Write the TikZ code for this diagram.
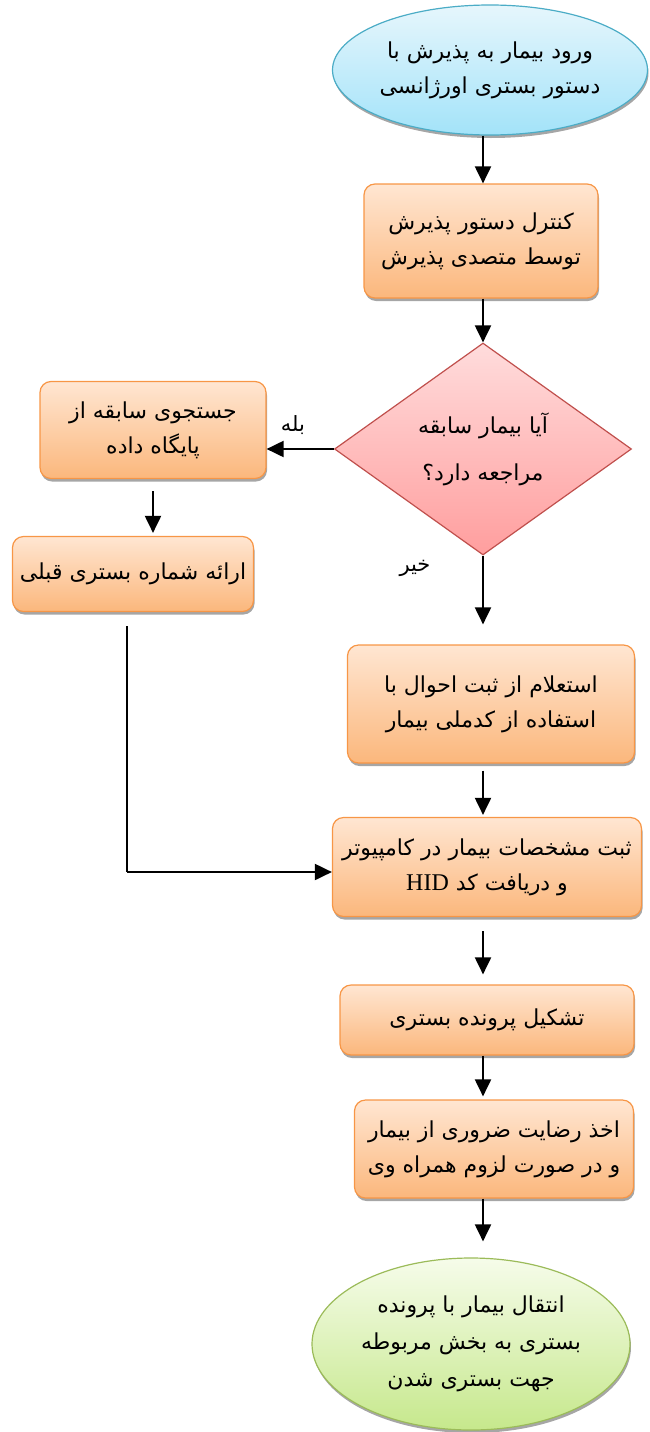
\documentclass[tikz,border=0pt]{standalone}
\usepackage{fontspec}
\setmainfont{Liberation Serif}
\newfontfamily\arabicfont[Script=Arabic]{DejaVu Sans}
\newfontfamily\latinserif{Liberation Serif}
\TeXXeTstate=1
\usetikzlibrary{shapes.geometric,arrows.meta,shadows}
\newcommand{\ar}[1]{\beginR #1\endR}
\definecolor{boxtop}{HTML}{FFE6D2}
\definecolor{boxbot}{HTML}{FBB77C}
\definecolor{boxline}{HTML}{F79646}
\definecolor{bluetop}{HTML}{E6F6FC}
\definecolor{bluebot}{HTML}{A3E3F9}
\definecolor{blueline}{HTML}{4BACC6}
\definecolor{pinktop}{HTML}{FFDCDC}
\definecolor{pinkbot}{HTML}{FF9E9E}
\definecolor{pinkline}{HTML}{C0504D}
\definecolor{greentop}{HTML}{F6FCEA}
\definecolor{greenbot}{HTML}{C6E88C}
\definecolor{greenline}{HTML}{9BBB59}
\begin{document}
\begin{tikzpicture}[x=1pt,y=-1pt,
  txt/.style={font=\arabicfont\fontsize{22}{35}\selectfont, align=center, inner sep=0pt},
  shad/.style={drop shadow={shadow xshift=1pt, shadow yshift=-3pt, opacity=0.35, fill=black}},
  proc/.style={txt, shad, rectangle, rounded corners=11pt, draw=boxline, line width=1.2pt,
    top color=boxtop, bottom color=boxbot},
  startnode/.style={txt, shad, ellipse, draw=blueline, line width=1.2pt,
    top color=bluetop, bottom color=bluebot},
  endnode/.style={txt, shad, ellipse, draw=greenline, line width=1.2pt,
    top color=greentop, bottom color=greenbot, font=\arabicfont\fontsize{22}{37}\selectfont},
  decision/.style={txt, diamond, draw=pinkline, line width=1.2pt,
    top color=pinktop, bottom color=pinkbot, font=\arabicfont\fontsize{22}{47}\selectfont},
  arr/.style={line width=2pt, -{Triangle[width=16pt,length=17pt]}},
  lbl/.style={font=\arabicfont\fontsize{21}{24}\selectfont, inner sep=0pt}
]
\useasboundingbox (0,0) rectangle (649,1432);

\node[startnode, minimum width=315, minimum height=130] (start) at (490,70)
  {\ar{ورود بیمار به پذیرش با}\\\ar{دستور بستری اورژانسی}};
\node[proc, minimum width=234, minimum height=114] (b1) at (481,241)
  {\ar{کنترل دستور پذیرش}\\\ar{توسط متصدی پذیرش}};
\node[decision, minimum width=297, minimum height=212] (dec) at (483,449)
  {\ar{آیا بیمار سابقه}\\\ar{مراجعه دارد؟}};
\node[proc, minimum width=226, minimum height=97] (l1) at (153,430)
  {\ar{جستجوی سابقه از}\\\ar{پایگاه داده}};
\node[proc, minimum width=241, minimum height=75] (l2) at (133,574)
  {\ar{ارائه شماره بستری قبلی}};
\node[proc, minimum width=287, minimum height=118] (b3) at (491,704)
  {\ar{استعلام از ثبت احوال با}\\\ar{استفاده از کدملی بیمار}};
\node[proc, minimum width=309, minimum height=99] (b4) at (487,867)
  {\ar{ثبت مشخصات بیمار در کامپیوتر}\\\ar{و دریافت کد \beginL{\latinserif\fontsize{24}{35}\selectfont HID}\endL}};
\node[proc, minimum width=294, minimum height=70] (b5) at (487,1020)
  {\ar{تشکیل پرونده بستری}};
\node[proc, minimum width=279, minimum height=98] (b6) at (494,1149)
  {\ar{اخذ رضایت ضروری از بیمار}\\\ar{و در صورت لزوم همراه وی}};
\node[endnode, minimum width=318, minimum height=172] (end) at (471,1344)
  {\ar{انتقال بیمار با پرونده}\\\ar{بستری به بخش مربوطه}\\\ar{جهت بستری شدن}};

\node[lbl] (yes) at (293,425) {\ar{بله}};
\node[lbl] (no) at (415,568) {\ar{خیر}};

\coordinate (c1) at (127,872);

\draw[arr] (start.south -| dec.north) -- (b1.north -| dec.north);
\draw[arr] (b1.south -| dec.north) -- (dec.north);
\draw[arr] (dec.west) -- (dec.west -| l1.east);
\draw[arr] ([yshift=-12pt]l1.south) -- ([yshift=3pt]l2.north -| l1.south);
\draw[arr] (dec.south) -- ([yshift=20pt]b3.north -| dec.south);
\draw[arr] ([yshift=-7pt]b3.south -| dec.south) -- ([yshift=2pt]b4.north -| dec.south);
\draw[arr] ([yshift=-14pt]b4.south -| dec.south) -- ([yshift=10pt]b5.north -| dec.south);
\draw[arr] (b5.south -| dec.south) -- ([yshift=3pt]b6.north -| dec.south);
\draw[arr] (b6.south -| dec.south) -- ([yshift=16pt]end.north -| dec.south);
\draw[line width=1.4pt] ([yshift=-14pt]l2.south -| c1) -- (c1);
\draw[arr] (c1) -- (c1 -| b4.west);
\end{tikzpicture}
\end{document}
